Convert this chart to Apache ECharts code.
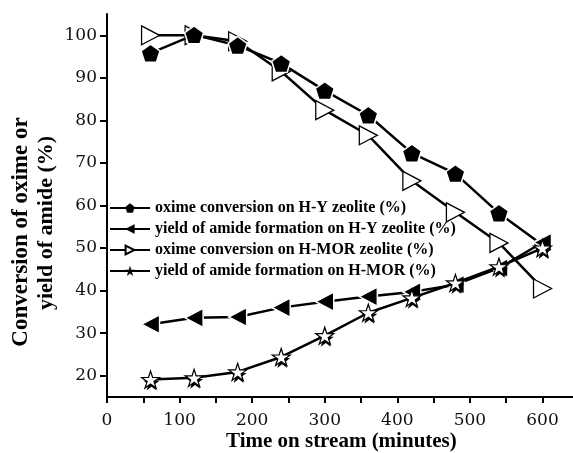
<!DOCTYPE html>
<html>
<head>
<meta charset="utf-8">
<script src="https://cdn.jsdelivr.net/npm/echarts@6/dist/echarts.min.js"></script>
<style>
  html, body { margin: 0; padding: 0; background: #fff; }
  #main { width: 573px; height: 453px; }
</style>
</head>
<body>
<div id="main"></div>
<script>
// time on stream (minutes)
var times = [60, 120, 180, 240, 300, 360, 420, 480, 540, 600]
// H-Y zeolite
var hyOxime = [95.8, 100.1, 97.6, 93.4, 87.0, 81.2, 72.3, 67.5, 58.2, 50.7]
var hyAmide = [32.1, 33.6, 33.8, 36.0, 37.4, 38.6, 39.7, 41.4, 45.3, 51.3]
// H-MOR zeolite
var morOxime = [100.0, 100.0, 98.6, 91.5, 82.4, 76.5, 65.8, 58.4, 51.2, 40.5]
var morAmide = [19.1, 19.5, 20.9, 24.4, 29.4, 34.8, 38.3, 41.8, 45.6, 50.0]

var names = [
  'oxime conversion on H-Y zeolite (%)',
  'yield of amide formation on H-Y zeolite (%)',
  'oxime conversion on H-MOR zeolite (%)',
  'yield of amide formation on H-MOR (%)'
]

var xLabels = [0, 100, 200, 300, 400, 500, 600]
var xTicks = [0, 50, 100, 150, 200, 250, 300, 350, 400, 450, 500, 550, 600]
var yLabels = [20, 30, 40, 50, 60, 70, 80, 90, 100]

// marker shapes
var pentagon = 'path://M0,-100 L95,-31 L59,81 L-59,81 L-95,-31 Z'
var triRight = 'path://M0,0 L20,10 L0,20 Z'
var triLeft = 'path://M20,0 L0,10 L20,20 Z'
var star = 'path://M0,-100 L22,-31 L95,-31 L36,12 L59,81 L0,38 L-59,81 L-36,12 L-95,-31 L-22,-31 Z'

function pairs(ys) {
  return times.map(function (t, i) { return [t, ys[i]] })
}

var serif = '"Liberation Serif", "Times New Roman", serif'
var tickFont = '"DejaVu Serif", serif'

function lineSeries(name, ys, symbol, size, itemStyle, z) {
  return {
    name: name,
    type: 'line',
    data: pairs(ys),
    symbol: symbol,
    symbolSize: size,
    showAllSymbol: true,
    lineStyle: { color: '#000', width: 2.5 },
    itemStyle: itemStyle,
    z: z,
    animation: false
  }
}

var chart = echarts.init(document.getElementById('main'))

// legend keys: filled markers without the white halo
var solidKey = { color: '#000', borderColor: '#000', borderWidth: 0.5 }

chart.setOption({
  animation: false,
  backgroundColor: '#fff',
  grid: { left: 107, right: 0, top: 14, bottom: 56 },
  xAxis: {
    type: 'value',
    min: 0,
    max: 642,
    splitLine: { show: false },
    axisLine: { lineStyle: { color: '#000', width: 2 } },
    axisTick: { length: 6, lineStyle: { color: '#000', width: 2 }, customValues: xTicks },
    axisLabel: { customValues: xLabels, color: '#111', fontFamily: tickFont, fontSize: 17, margin: 15 }
  },
  yAxis: {
    type: 'value',
    min: 15,
    max: 105,
    splitLine: { show: false },
    axisLine: { lineStyle: { color: '#000', width: 2 } },
    axisTick: { length: 7, lineStyle: { color: '#000', width: 2 }, customValues: yLabels },
    axisLabel: { customValues: yLabels, color: '#111', fontFamily: tickFont, fontSize: 17, margin: 10 }
  },
  legend: {
    orient: 'vertical',
    left: 104,
    top: 195,
    itemWidth: 40,
    itemHeight: 11,
    itemGap: 5,
    selectedMode: false,
    textStyle: { fontFamily: serif, fontWeight: 'bold', fontSize: 16, color: '#000', lineHeight: 16 },
    data: [
      { name: names[0], itemStyle: solidKey },
      { name: names[1], itemStyle: solidKey },
      { name: names[2] },
      { name: names[3], itemStyle: solidKey }
    ]
  },
  graphic: [
    {
      type: 'text',
      left: 226,
      top: 431,
      style: { text: 'Time on stream (minutes)', font: 'bold 21px ' + serif, fill: '#000' }
    },
    {
      type: 'text',
      x: 21,
      y: 232,
      rotation: Math.PI / 2,
      style: {
        text: 'Conversion of oxime or',
        font: 'bold 23px ' + serif,
        fill: '#000',
        align: 'center',
        verticalAlign: 'middle'
      }
    },
    {
      type: 'text',
      x: 46,
      y: 223,
      rotation: Math.PI / 2,
      style: {
        text: 'yield of amide (%)',
        font: 'bold 22px ' + serif,
        fill: '#000',
        align: 'center',
        verticalAlign: 'middle'
      }
    }
  ],
  series: [
    lineSeries(names[2], morOxime, triRight, [18, 19],
      { color: '#fff', borderColor: '#000', borderWidth: 1.3 }, 2),
    lineSeries(names[0], hyOxime, pentagon, [19, 18],
      { color: '#000', borderColor: '#fff', borderWidth: 1.5 }, 3),
    lineSeries(names[1], hyAmide, triLeft, [18, 19],
      { color: '#000', borderColor: '#fff', borderWidth: 1.5 }, 4),
    {
      name: 'amide H-MOR shadow',
      type: 'line',
      data: pairs(morAmide),
      symbol: star,
      symbolSize: [16, 16],
      symbolOffset: [1, 3],
      lineStyle: { width: 0, opacity: 0 },
      itemStyle: { color: '#000' },
      z: 5,
      animation: false
    },
    lineSeries(names[3], morAmide, star, [18, 17],
      { color: '#fff', borderColor: '#000', borderWidth: 1.2 }, 6)
  ]
})
</script>
</body>
</html>
